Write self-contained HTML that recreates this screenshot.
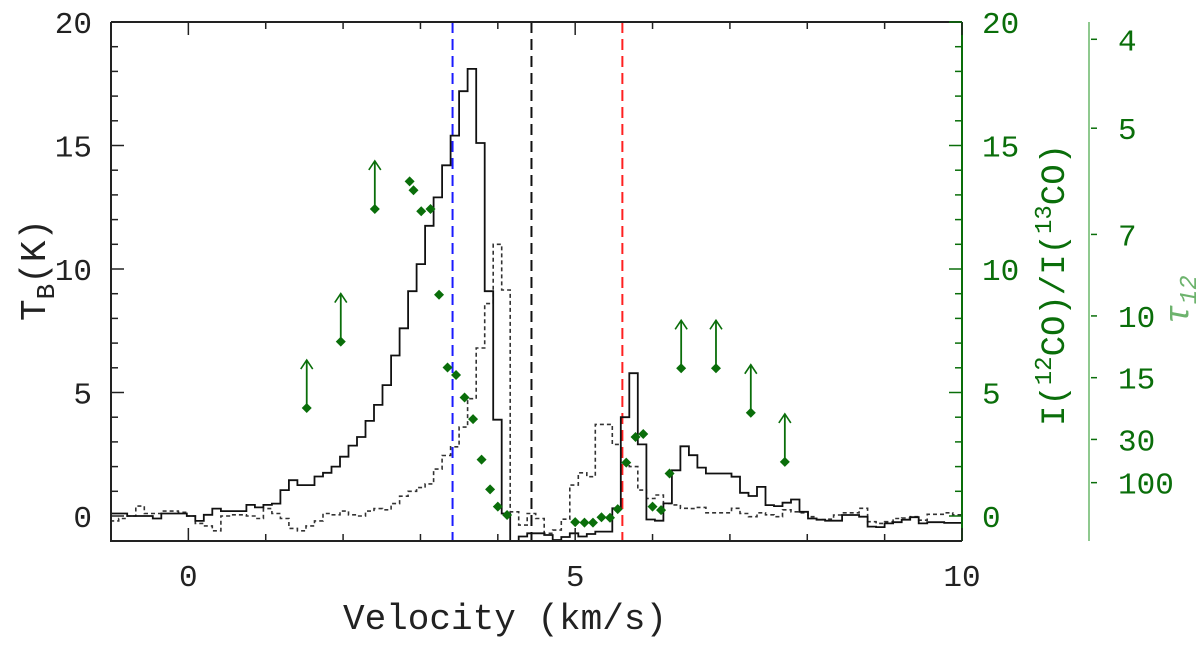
<!DOCTYPE html>
<html><head><meta charset="utf-8"><style>
html,body{margin:0;padding:0;background:#fff;}
svg{display:block;}
text{font-family:"Liberation Mono","DejaVu Sans Mono",monospace;}
</style></head><body>
<svg id="chart" width="1200" height="651" viewBox="0 0 1200 651" xmlns="http://www.w3.org/2000/svg">
<defs><clipPath id="plotclip"><rect x="111" y="22" width="851" height="519"/></clipPath></defs>
<g id="g-series" clip-path="url(#plotclip)"></g>
<g id="g-axes"></g>
<text x="505" y="629" font-size="36" text-anchor="middle" fill="#222">Velocity (km/s)</text>
<text transform="translate(45,270) rotate(-90)" font-size="36" text-anchor="middle" fill="#222">T<tspan font-size="26" dy="9">B</tspan><tspan dy="-9">(K)</tspan></text>
<text transform="translate(1064,285) rotate(-90)" font-size="34" text-anchor="middle" fill="#0a6e0a">I(<tspan font-size="24" dy="-13">12</tspan><tspan dy="13">CO)/I(</tspan><tspan font-size="24" dy="-13">13</tspan><tspan dy="13">CO)</tspan></text>
<text transform="translate(1188,300) rotate(-90)" font-size="34" text-anchor="middle" fill="#6db36d" font-family="Liberation Serif, serif" font-style="italic">τ<tspan font-size="24" dy="8">12</tspan></text>
</svg>
<script>
// data
const chanStart = -1.01;
const chanWidth = 0.11;
const co12 = [0.1,0.1,0,0,0,-0.1,0.1,0.1,0.1,0,-0.2,0.05,0.3,0.2,0.2,0.2,0.45,0.35,0.45,0.5,
 1.05,1.45,1.25,1.25,1.6,1.75,2.0,2.4,2.85,3.2,3.85,4.5,5.3,6.5,7.6,9.1,10.2,11.75,12.9,14.2,
 15.4,17.2,18.1,15.1,9.1,3.9,0.1,-1.3,-0.83,-0.7,-0.7,-0.77,-0.97,-0.85,-0.7,-0.83,-0.73,-0.63,-0.63,0.31,
 4.0,5.78,2.9,-0.14,-0.19,0.51,1.85,2.82,2.46,1.96,1.72,1.72,1.72,1.59,0.94,0.81,1.18,0.44,0.4,0.54,
 0.67,0.17,-0.1,-0.15,-0.19,-0.19,0.04,0.04,-0.03,-0.43,-0.45,-0.3,-0.25,-0.15,-0.05,-0.3,-0.25,-0.25,-0.28,-0.28];
const co13 = [-0.2,-0.1,0,0.4,0.1,0.1,0.2,0.2,0.15,0,-0.3,-0.4,-0.6,0,0.05,0.05,0,-0.1,0.3,0.1,
 -0.1,-0.5,-0.6,-0.4,-0.2,0.1,0.05,0.2,0.05,0,0.2,0.3,0.25,0.5,0.8,1.0,1.15,1.3,1.9,2.45,
 2.8,3.6,4.75,6.8,8.6,11.0,9.15,0.17,-0.37,0.1,-0.1,-0.7,-0.57,-0.13,1.25,1.75,1.59,3.71,3.71,2.9,
 2.15,2.0,1.05,0.71,0.85,0.51,0.45,0.31,0.3,0.35,0.13,0.13,0.13,0.31,0.1,-0.03,0.13,0.05,-0.03,0.25,
 0.17,0.13,-0.03,-0.15,-0.13,0.04,0.13,0.13,0.31,-0.23,-0.3,-0.23,-0.1,-0.08,-0.03,-0.17,0.07,0.07,0.13,0.05];
const ratioV = [2.86,2.91,3.01,3.13,3.24,3.35,3.46,3.57,3.68,3.79,3.90,4.0,4.12,5.0,5.12,5.23,5.34,5.45,5.55,5.66,5.78,5.88,6.0,6.11,6.22];
const ratioR = [13.55,13.19,12.34,12.43,8.96,6.01,5.71,4.8,3.92,2.28,1.08,0.38,0.04,-0.25,-0.27,-0.27,-0.05,-0.07,0.28,2.16,3.2,3.32,0.38,0.24,1.72];
const limitV = [1.53,1.97,2.41,6.37,6.82,7.27,7.71];
const limitR = [4.37,7.06,12.43,5.98,5.98,4.18,2.19];
const markerV = [3.415,4.435,5.61];
const markerColor = ['#1a1aff','#111','#ff2020'];
const xTicks = [0,5,10];
const yTicks = [0,5,10,15,20];
const tauLabels = ['4','5','7','10','15','30','100'];
const tauRatio = [19.3,15.7,11.4,8.1,5.6,3.1,1.35];

const X0=111,X1=962,Y0=22,Y1=541;
const xs=v=>X0+(v+1)/11*(X1-X0);
const ys=k=>516-(516-22)/20*k;
const NS='http://www.w3.org/2000/svg';
const gS=document.getElementById('g-series'), gA=document.getElementById('g-axes');
function mk(tag,attrs,parent){const e=document.createElementNS(NS,tag);for(const k in attrs)e.setAttribute(k,attrs[k]);parent.appendChild(e);return e;}

markerV.forEach((v,i)=>{
  const l=mk('line',{x1:xs(v),x2:xs(v),y1:Y0,y2:Y1,stroke:markerColor[i],'stroke-width':2,'stroke-dasharray':'11,6'},gS);
  
  
});
function stepPath(vals){
  let d='';
  vals.forEach((k,i)=>{const a=xs(chanStart+i*chanWidth),b=xs(chanStart+(i+1)*chanWidth),y=ys(k);
    d+=(i===0?'M':'L')+a.toFixed(1)+','+y.toFixed(1)+'L'+b.toFixed(1)+','+y.toFixed(1);});
  return d;
}
const p13=mk('path',{d:stepPath(co13),fill:'none',stroke:'#333','stroke-width':1.6,'stroke-dasharray':'4,3'},gS);


const p12=mk('path',{d:stepPath(co12),fill:'none',stroke:'#111','stroke-width':1.8},gS);



const G='#0a6e0a';
function diamond(x,y){return `M${x},${y-5}L${x+5},${y}L${x},${y+5}L${x-5},${y}Z`;}
ratioV.forEach((v,i)=>{
  const d=mk('path',{d:diamond(xs(v),ys(ratioR[i])),fill:G},gS);
  
  
});
limitV.forEach((v,i)=>{
  const x=xs(v),y=ys(limitR[i]);
  const g=mk('g',{},gS);
  
  
  mk('path',{d:diamond(x,y),fill:G},g);
  mk('line',{x1:x,x2:x,y1:y,y2:y-48,stroke:G,'stroke-width':1.8},g);
  mk('path',{d:`M${x-6},${y-39}L${x},${y-48}L${x+6},${y-39}`,fill:'none',stroke:G,'stroke-width':1.6},g);
});

const fr=mk('path',{d:`M${X0},${Y0}L${X1},${Y0}M${X0},${Y0}L${X0},${Y1}L${X1},${Y1}`,fill:'none',stroke:'#222','stroke-width':2},gA);


mk('line',{x1:X1,x2:X1,y1:Y0,y2:Y1,stroke:G,'stroke-width':2},gA);
for(let v=-1;v<=10;v++){
  const L=(v%5===0)?13:7,x=xs(v);
  mk('line',{x1:x,x2:x,y1:Y1,y2:Y1-L,stroke:'#222','stroke-width':1.5},gA);
  mk('line',{x1:x,x2:x,y1:Y0,y2:Y0+L,stroke:'#222','stroke-width':1.5},gA);
}
xTicks.forEach(v=>{
  const t=mk('text',{x:xs(v),y:586,'font-size':31,'text-anchor':'middle',fill:'#222'},gA);
  t.textContent=v;
  
  
});
for(let k=0;k<=20;k++){
  const L=(k%5===0)?13:7,y=ys(k);
  mk('line',{x1:X0,x2:X0+L,y1:y,y2:y,stroke:'#222','stroke-width':1.5},gA);
  mk('line',{x1:X1,x2:X1-L,y1:y,y2:y,stroke:G,'stroke-width':1.5},gA);
}
yTicks.forEach(k=>{
  const t=mk('text',{x:92,y:ys(k)+11,'font-size':31,'text-anchor':'end',fill:'#222'},gA);
  t.textContent=k;
  
  
  const r=mk('text',{x:982,y:ys(k)+11,'font-size':31,'text-anchor':'start',fill:G},gA);
  r.textContent=k;
  
  
});
const ta=mk('line',{x1:1089,x2:1089,y1:22,y2:541,stroke:'#8fc98f','stroke-width':2},gA);


tauLabels.forEach((s,i)=>{
  const y=ys(tauRatio[i]);
  mk('line',{x1:1091,x2:1097,y1:y,y2:y,stroke:G,'stroke-width':1.5},gA);
  const t=mk('text',{x:1118,y:y+11,'font-size':31,fill:G},gA);
  t.textContent=s;
  
  
});
</script>
</body></html>
